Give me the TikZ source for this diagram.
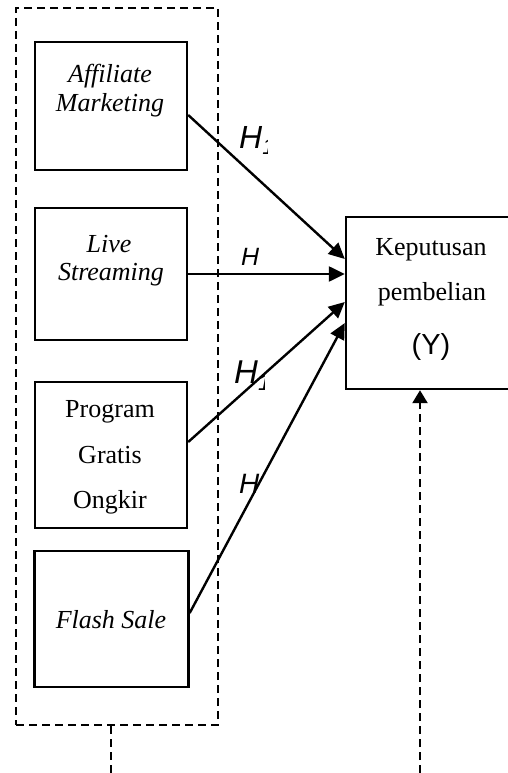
\documentclass[tikz,border=0pt]{standalone}
\usepackage{fontspec}
\setmainfont{Liberation Serif}
\newfontfamily\arialfont{Liberation Sans}
\usetikzlibrary{arrows.meta}
\begin{document}
\begin{tikzpicture}[x=1pt,y=-1pt,
  boxn/.style={draw, line width=2.4pt, inner sep=0pt},
  txt/.style={inner sep=0pt, anchor=base, font=\fontsize{26}{30}\selectfont},
  itxt/.style={txt, font=\fontsize{26}{30}\selectfont\itshape},
  hl/.style={inner sep=0pt, anchor=base west},
  conn/.style={line width=2.4pt, -{Triangle[length=16pt,width=15pt]}},
  dsh/.style={line width=2.4pt, dash pattern=on 8pt off 5pt}]
\useasboundingbox (0,0) rectangle (508,773);
\clip (0,0) rectangle (508,773);
% group box
\node[draw, dsh, minimum width=202pt, minimum height=717pt, inner sep=0pt] (grp) at (117,366.5) {};
% boxes
\node[boxn, minimum width=152pt, minimum height=128pt] (b1) at (111,106) {};
\node[boxn, minimum width=152pt, minimum height=132pt] (b2) at (111,274) {};
\node[boxn, minimum width=152pt, minimum height=146pt] (b3) at (111,455) {};
\node[boxn, minimum width=154pt, minimum height=136pt] (b4) at (111.5,619) {};
\node[boxn, minimum width=174pt, minimum height=172pt] (y) at (433,303) {};
% texts
\node[itxt] (t1a) at (110,83) {Affiliate};
\node[itxt] (t1b) at (110,112) {Marketing};
\node[itxt] (t2a) at (109,252) {Live};
\node[itxt] (t2b) at (111,280) {Streaming};
\node[txt] (t3a) at (110,417) {Program};
\node[txt] (t3b) at (110,463) {Gratis};
\node[txt] (t3c) at (110,508) {Ongkir};
\node[itxt] (t4) at (111,628) {Flash Sale};
\node[txt] (ya) at (431,255) {Keputusan};
\node[txt] (yb) at (432,300) {pembelian};
\node[txt, font=\fontsize{29}{32}\selectfont\arialfont] (yc) at (431,354) {(Y)};
% connectors
\draw[conn] (b1.east |- 0,115) -- (y.west |- 0,259);
\draw[conn] (b2.east |- 0,274) -- (y.west |- 0,274);
\draw[conn] (b3.east |- 0,442) -- (y.west |- 0,302);
\draw[conn] (b4.east |- 0,613) -- (y.west |- 0,323);
% labels
\begin{scope}
\clip (220,100) rectangle (267,160);
\node[hl, font=\fontsize{32}{34}\selectfont\arialfont\itshape] (h1) at (239,148) {H\textsubscript{1}};
\end{scope}
\node[hl, font=\fontsize{25}{28}\selectfont\arialfont\itshape] (h2) at (241,265) {H};
\begin{scope}
\clip (220,340) rectangle (264,400);
\node[hl, font=\fontsize{33}{35}\selectfont\arialfont\itshape] (h3) at (234,383) {H\textsubscript{1}};
\end{scope}
\node[hl, font=\fontsize{28}{30}\selectfont\arialfont\itshape] (h4) at (239,493) {H};
% bottom dashed lines
\coordinate (bot1) at (111,773);
\coordinate (bot2) at (420,773);
\draw[dsh] (bot1 |- grp.south) -- (bot1);
\draw[dsh, -{Triangle[length=13pt,width=15pt]}] (bot2) -- (bot2 |- y.south);
\end{tikzpicture}
\end{document}
